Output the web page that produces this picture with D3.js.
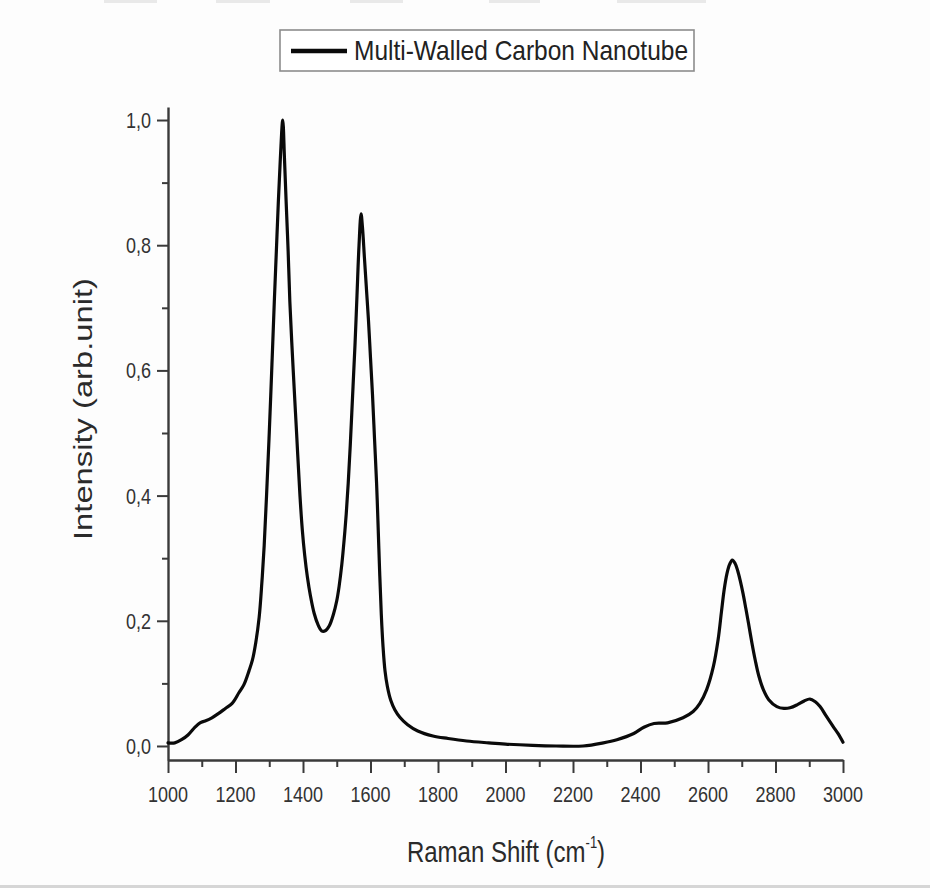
<!DOCTYPE html>
<html><head><meta charset="utf-8">
<script src="https://cdn.jsdelivr.net/npm/d3@7/dist/d3.min.js"></script>
<style>html,body{margin:0;padding:0;background:#fdfdfd;} svg{display:block}</style>
</head><body><svg id="c" width="930" height="888"></svg>
<script>
const ramanShift = [1000,1020,1040,1060,1080,1095,1110,1130,1150,1170,1190,1210,1225,1240,1250,1260,1270,1278,1285,1292,1300,1308,1315,1321,1327,1333,1340,1345,1350,1356,1361,1371,1381,1391,1398,1405,1413,1422,1433,1445,1455,1466,1478,1490,1500,1507,1515,1522,1528,1534,1540,1547,1554,1560,1566,1572,1576,1582,1588,1594,1600,1606,1612,1618,1622,1627,1632,1637,1643,1650,1660,1672,1687,1710,1740,1785,1830,1885,1950,2000,2080,2150,2230,2290,2330,2380,2410,2440,2480,2526,2556,2576,2596,2616,2630,2640,2648,2656,2664,2672,2680,2688,2696,2704,2712,2720,2730,2740,2750,2764,2780,2804,2825,2843,2865,2885,2902,2917,2932,2950,2971,2985,3000];
const intensity = [0.005,0.005,0.010,0.018,0.030,0.037,0.040,0.045,0.052,0.060,0.068,0.085,0.098,0.120,0.137,0.165,0.205,0.26,0.32,0.40,0.50,0.61,0.71,0.79,0.87,0.94,1.00,0.94,0.87,0.79,0.71,0.60,0.50,0.40,0.345,0.305,0.27,0.24,0.212,0.193,0.184,0.184,0.192,0.21,0.232,0.255,0.29,0.33,0.37,0.42,0.48,0.56,0.64,0.72,0.80,0.85,0.83,0.78,0.73,0.68,0.62,0.56,0.49,0.42,0.36,0.28,0.21,0.16,0.12,0.095,0.073,0.058,0.046,0.034,0.024,0.016,0.012,0.008,0.005,0.003,0.001,0.000,0.000,0.005,0.010,0.020,0.030,0.036,0.037,0.045,0.055,0.068,0.09,0.127,0.17,0.215,0.25,0.275,0.29,0.297,0.292,0.280,0.263,0.243,0.220,0.196,0.165,0.137,0.113,0.090,0.074,0.063,0.060,0.061,0.066,0.072,0.075,0.071,0.063,0.048,0.031,0.02,0.006];
const xTicks = [1000,1200,1400,1600,1800,2000,2200,2400,2600,2800,3000];
const xMinorTicks = [1100,1300,1500,1700,1900,2100,2300,2500,2700,2900];
const yTicks = [0,0.2,0.4,0.6,0.8,1.0];
const yMinorTicks = [0.1,0.3,0.5,0.7,0.9];
const yTickLabels = ["0,0","0,2","0,4","0,6","0,8","1,0"];
const seriesName = "Multi-Walled Carbon Nanotube";
const xTitle = "Raman Shift (cm";
const xTitleSup = "-1";
const yTitle = "Intensity (arb.unit)";

const FONT = "'Liberation Sans', Arial, sans-serif";
const S = 1.25; // vertical stretch of the source image
const svg = d3.select("#c");

// background & faint decorations
svg.append("rect").attr("width",930).attr("height",888).attr("fill","#fdfdfd");
[[104,53],[216,54],[350,53],[489,51],[617,89]].forEach(([x,w])=>{
  svg.append("rect").attr("x",x).attr("y",0).attr("width",w).attr("height",3).attr("fill","#e9e9e9");
});
svg.append("rect").attr("x",0).attr("y",885).attr("width",930).attr("height",3).attr("fill","#d6d6d6");

const x = d3.scaleLinear().domain([1000,3000]).range([168,843]);
const y = d3.scaleLinear().domain([-0.0224,1.0208]).range([760,107]);

const axisColor = "#3a3a3a";
svg.append("g").attr("transform","translate(168,0)")
  .call(d3.axisLeft(y).tickValues(yTicks).tickSize(11).tickSizeOuter(0).tickFormat(""));
svg.append("g").attr("transform","translate(168,0)")
  .call(d3.axisLeft(y).tickValues(yMinorTicks).tickSize(6).tickSizeOuter(0).tickFormat(""))
  .select(".domain").remove();
svg.append("g").attr("transform","translate(0,760)")
  .call(d3.axisBottom(x).tickValues(xTicks).tickSize(13).tickSizeOuter(0).tickFormat(""));
svg.append("g").attr("transform","translate(0,760)")
  .call(d3.axisBottom(x).tickValues(xMinorTicks).tickSize(7).tickSizeOuter(0).tickFormat(""))
  .select(".domain").remove();
svg.selectAll(".domain").attr("stroke",axisColor).attr("stroke-width",2.4);
svg.selectAll(".tick line").attr("stroke",axisColor).attr("stroke-width",2);

// tick labels
yTicks.forEach((v,i)=>{
  svg.append("g").attr("transform",`translate(151,${y(v)+8}) scale(1,${S})`)
    .append("text").attr("text-anchor","end").attr("font-family",FONT).attr("font-size",18)
    .attr("fill","#333").text(yTickLabels[i]);
});
xTicks.forEach(v=>{
  svg.append("g").attr("transform",`translate(${x(v)},802) scale(1,${S})`)
    .append("text").attr("text-anchor","middle").attr("font-family",FONT).attr("font-size",18)
    .attr("fill","#333").text(v);
});

// axis titles
const xt = svg.append("g").attr("transform",`translate(506,862) scale(1,${S})`)
  .append("text").attr("text-anchor","middle").attr("font-family",FONT).attr("font-size",24).attr("fill","#2a2a2a");
xt.append("tspan").text(xTitle);
xt.append("tspan").attr("font-size",13).attr("dy",-11).text(xTitleSup);
xt.append("tspan").attr("dy",11).text(")");

svg.append("g").attr("transform",`translate(92,409) rotate(-90)`)
  .append("text").attr("text-anchor","middle").attr("font-family",FONT).attr("font-size",26)
  .attr("fill","#2a2a2a").attr("textLength",262).attr("lengthAdjust","spacingAndGlyphs").text(yTitle);

// curve
const data = ramanShift.map((r,i)=>({r, v:intensity[i]}));
svg.append("path").datum(data)
  .attr("fill","none").attr("stroke","#0a0a0a").attr("stroke-width",3.2)
  .attr("stroke-linejoin","round").attr("stroke-linecap","round")
  .attr("d", d3.line().x(d=>x(d.r)).y(d=>y(d.v)).curve(d3.curveCatmullRom.alpha(0.5)));

// legend
svg.append("rect").attr("x",280).attr("y",30).attr("width",414).attr("height",41)
  .attr("fill","#fff").attr("stroke","#8c8c8c").attr("stroke-width",1.6);
svg.append("line").attr("x1",291).attr("x2",347).attr("y1",51).attr("y2",51)
  .attr("stroke","#0a0a0a").attr("stroke-width",4.5);
svg.append("g").attr("transform",`translate(354,60) scale(1,1.15)`)
  .append("text").attr("font-family",FONT).attr("font-size",24).attr("fill","#222")
  .attr("textLength",334).attr("lengthAdjust","spacingAndGlyphs").text(seriesName);
</script></body></html>
